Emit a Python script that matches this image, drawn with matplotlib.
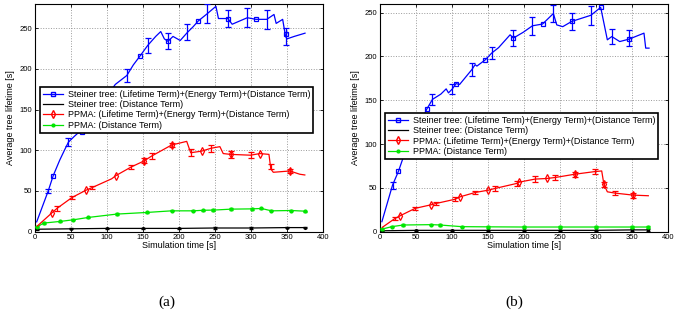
import matplotlib
matplotlib.use("Agg")
import matplotlib.pyplot as plt
import numpy as np

plt.rcParams['font.family'] = ['Liberation Sans', 'DejaVu Sans']

labels = ["Steiner tree: (Lifetime Term)+(Energy Term)+(Distance Term)",
          "Steiner tree: (Distance Term)",
          "PPMA: (Lifetime Term)+(Energy Term)+(Distance Term)",
          "PPMA: (Distance Term)"]
xticks = [0, 50, 100, 150, 200, 250, 300, 350, 400]
yticks = [0, 50, 100, 150, 200, 250]

# ---------------- panel (a) ----------------
a_blue_x = [3, 19, 26, 35, 42, 47, 55, 60, 66, 80, 95, 112, 128, 137, 146, 157, 168, 175, 180, 185, 192, 202, 212, 220, 227, 239.5, 251.5, 255, 268, 274, 295, 307, 322, 332, 335, 344, 348, 350, 360, 375]
a_blue_y = [12, 50, 69, 88, 101, 110, 117, 121, 122, 140, 160, 181, 192, 205, 215.6, 229, 240, 246, 237, 234, 240, 235, 245, 252, 259, 268, 277, 262, 262, 255, 263, 261, 261, 267, 256, 261, 240, 237, 240, 244]
a_blue_ex = [19, 47, 128, 157, 185, 212, 239.5, 268, 295, 322, 348]
a_blue_ey = [50, 110, 192, 229, 234, 245, 268, 262, 263, 261, 240]
a_blue_ee = [3, 5, 8, 9, 10, 10, 12, 10, 12, 12, 10]
a_blue_mx = [26, 66, 146, 185, 227, 268, 307, 348]
a_blue_my = [69, 122, 215.6, 234, 259, 262, 261, 243]

a_black_x = [4, 50, 100, 150, 200, 250, 300, 350, 375]
a_black_y = [3, 3.5, 4, 4, 4, 4.5, 4.5, 5, 5]

a_red_x = [4, 24, 31, 52, 71.5, 79.4, 107, 113, 134, 152, 162.5, 190, 211, 216.5, 231.7, 244.6, 257, 261.6, 271.8, 299.5, 312.4, 325, 327.6, 331, 354, 367.7, 374.7]
a_red_y = [7, 23, 28.5, 42, 51, 54, 65, 69, 79.5, 87, 93, 106.5, 111, 97, 99, 102.5, 104.5, 96, 95, 94, 96, 95, 77, 73, 74.6, 70.6, 69.7]
a_red_ex = [31, 52, 79.4, 134, 152, 162.5, 190, 216.5, 244.6, 271.8, 299.5, 327.6, 354]
a_red_ey = [28.5, 42, 54, 79.5, 87, 93, 106.5, 97, 102.5, 95, 94, 80, 74.6]
a_red_ee = [3, 2, 2, 3, 3, 4, 3, 4, 4, 4, 4, 3, 3]
a_red_mx = [24, 71.5, 113, 152, 190, 231.7, 271.8, 312.4, 354]
a_red_my = [23, 51, 69, 87, 106.5, 99, 95, 96, 74.6]

a_green_x = [4, 12.5, 35.6, 54, 74.8, 114, 155.5, 190, 220, 234, 247.6, 273, 301, 314.6, 328.5, 356, 374.7]
a_green_y = [6, 10.5, 12.6, 14.6, 17.5, 21.6, 23.6, 25.6, 25.6, 26.3, 26.5, 27.7, 28, 28.5, 25.6, 26, 25.2]

# ---------------- panel (b) ----------------
b_blue_x = [3.3, 18, 26.3, 33, 45, 55, 65.6, 73.4, 85, 92.4, 95.6, 101, 106, 111, 128, 132.5, 135, 146.4, 155.7, 165, 181, 185.6, 199.4, 212, 226, 241, 245.7, 254, 266.5, 293, 306.6, 315.8, 322, 333, 346, 366.6, 369, 373.6]
b_blue_y = [11.4, 53, 69, 85, 105, 122, 140, 151, 157, 163, 158.4, 163, 169, 168, 185, 190.6, 189, 196, 204, 210, 224.7, 221, 227.7, 235, 237, 249, 236, 234, 240, 247, 256, 219, 222.7, 217, 219.8, 226.6, 209.5, 209.5]
b_blue_ex = [18, 73.4, 101, 128, 155.7, 185.6, 212, 241, 266.5, 293, 322, 346]
b_blue_ey = [53, 151, 163, 185, 204, 221, 235, 249, 240, 247, 222.7, 221]
b_blue_ee = [4, 6, 6, 7, 7, 9, 10, 10, 10, 11, 9, 9]
b_blue_mx = [26.3, 65.6, 106, 146.4, 185.6, 226, 266.5, 306.6, 346]
b_blue_my = [69, 140, 169, 196, 221, 237, 240, 256, 219.8]

b_black_x = [4, 50, 100, 150, 200, 250, 300, 350, 372]
b_black_y = [1, 1.5, 1.5, 1.5, 1.5, 1.5, 1.5, 2, 2]

b_red_x = [4, 21.7, 28.7, 49.4, 71.6, 78.5, 104.8, 111.8, 132.5, 151, 160, 190, 194, 215.6, 231.8, 243.3, 271, 298.7, 308, 311, 315.8, 326.5, 351.8, 372.6]
b_red_y = [5, 15.2, 18.2, 26.6, 30.7, 32.2, 37, 39.8, 44.7, 47.4, 49.3, 55, 56.6, 60, 60.7, 61.8, 65.6, 68.6, 69.3, 54.2, 45.5, 44, 41.7, 41]
b_red_ex = [21.7, 49.4, 78.5, 104.8, 132.5, 160, 190, 215.6, 243.3, 271, 298.7, 311, 326.5, 351.8]
b_red_ey = [15.2, 26.6, 32.2, 37, 44.7, 49.3, 55, 60, 61.8, 65.6, 68.6, 54.2, 44, 41.7]
b_red_ee = [1.5, 1.5, 2, 2, 2, 3, 3, 3, 3, 3, 3, 3, 2, 3]
b_red_mx = [28.7, 71.6, 111.8, 151, 194, 231.8, 271, 311, 351.8]
b_red_my = [18.2, 30.7, 39.8, 47.4, 56.6, 60.7, 65.6, 54.2, 41.7]

b_green_x = [4, 17, 33, 72, 84, 114, 150, 200, 250, 300, 350, 372]
b_green_y = [3, 5.7, 7.6, 8, 7.6, 5.7, 5.5, 5.3, 5.3, 5.3, 5.3, 5.3]

BLUE, RED, GREEN, BLACK = (0, 0, 1), (1, 0, 0), (0, 0.9, 0), (0, 0, 0)
LW = 0.9


def panel(ax, ylim, blue, black, red, green, legend_anchor):
    bx, by, bex, bey, bee, bmx, bmy = blue
    rx, ry, rex, rey, ree, rmx, rmy = red
    kx, ky = black
    gx, gy = green
    ax.plot(kx, ky, color=BLACK, lw=LW, marker='.', ms=2.5, zorder=3)
    ax.errorbar(kx, ky, yerr=[0.8] * len(kx), fmt='none', ecolor=BLACK, elinewidth=0.6, capsize=1.5, zorder=3)
    ax.plot(gx, gy, color=GREEN, lw=LW, marker='.', ms=4, zorder=3)
    ax.errorbar(gx, gy, yerr=[0.8] * len(gx), fmt='none', ecolor=GREEN, elinewidth=0.6, capsize=1.5, zorder=3)
    ax.plot(rx, ry, color=RED, lw=LW, zorder=4)
    ax.errorbar(rex, rey, yerr=ree, fmt='none', ecolor=RED, elinewidth=LW, capsize=2.5, capthick=LW, zorder=4)
    ax.plot(rmx, rmy, ls='none', marker='d', ms=4, mfc='none', mec=RED, mew=0.9, zorder=4)
    ax.plot(bx, by, color=BLUE, lw=LW, zorder=5)
    ax.errorbar(bex, bey, yerr=bee, fmt='none', ecolor=BLUE, elinewidth=LW, capsize=2.5, capthick=LW, zorder=5)
    ax.plot(bmx, bmy, ls='none', marker='s', ms=3.5, mfc='none', mec=BLUE, mew=0.9, zorder=5)

    ax.set_xlim(0, 400)
    ax.set_ylim(*ylim)
    ax.set_xticks(xticks)
    ax.set_yticks(yticks)
    ax.tick_params(labelsize=5.5, length=2.5, width=0.6, direction='in', pad=2, top=True, right=True)
    ax.grid(True, ls=':', color='#9a9a9a', lw=0.7)
    for s in ax.spines.values():
        s.set_linewidth(0.8)
    ax.set_xlabel("Simulation time [s]", fontsize=6.5, labelpad=0)
    ax.set_ylabel("Average tree lifetime [s]", fontsize=6.5, labelpad=3)

    handles = [
        plt.Line2D([], [], color=BLUE, lw=LW, marker='s', ms=3.5, mfc='none', mec=BLUE),
        plt.Line2D([], [], color=BLACK, lw=LW),
        plt.Line2D([], [], color=RED, lw=LW, marker='d', ms=4, mfc='none', mec=RED),
        plt.Line2D([], [], color=GREEN, lw=LW, marker='.', ms=4),
    ]
    leg = ax.legend(handles, labels, loc='upper left', bbox_to_anchor=legend_anchor,
                    borderaxespad=0, fontsize=6.5, frameon=True, fancybox=False,
                    edgecolor='black', framealpha=1, handlelength=2.2, handletextpad=0.6,
                    labelspacing=0.15, borderpad=0.3)
    leg.get_frame().set_linewidth(1.2)
    leg.set_zorder(10)


fig = plt.figure(figsize=(6.97, 3.24), dpi=100)
ax1 = fig.add_axes([0.0495, 0.285, 0.414, 0.703])
ax2 = fig.add_axes([0.5445, 0.285, 0.414, 0.703])

panel(ax1, (0, 280),
      (a_blue_x, a_blue_y, a_blue_ex, a_blue_ey, a_blue_ee, a_blue_mx, a_blue_my),
      (a_black_x, a_black_y),
      (a_red_x, a_red_y, a_red_ex, a_red_ey, a_red_ee, a_red_mx, a_red_my),
      (a_green_x, a_green_y), (0.02, 0.635))
panel(ax2, (0, 260),
      (b_blue_x, b_blue_y, b_blue_ex, b_blue_ey, b_blue_ee, b_blue_mx, b_blue_my),
      (b_black_x, b_black_y),
      (b_red_x, b_red_y, b_red_ex, b_red_ey, b_red_ee, b_red_mx, b_red_my),
      (b_green_x, b_green_y), (0.02, 0.52))

fig.text(167 / 697, 1 - 302 / 324, "(a)", ha='center', va='center', fontsize=11,
         family=['Liberation Serif', 'DejaVu Serif'])
fig.text(514 / 697, 1 - 302 / 324, "(b)", ha='center', va='center', fontsize=11,
         family=['Liberation Serif', 'DejaVu Serif'])

fig.savefig("out.png", dpi=100)
